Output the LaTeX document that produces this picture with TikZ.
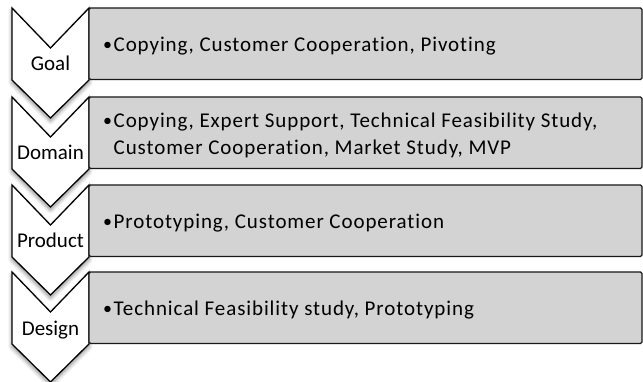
\documentclass[tikz,border=0pt]{standalone}
\usepackage{fontspec}
\setmainfont{Carlito}[Ligatures=NoCommon]
\usetikzlibrary{shadows.blur}
\definecolor{boxgray}{RGB}{211,211,211}
\newcommand\itembul{\makebox[10.5pt][l]{\raisebox{0.8pt}{\fontsize{18}{18}\selectfont\textbullet}}}
\begin{document}
\begin{tikzpicture}[x=1pt,y=-1pt,
  stage/.style={draw=black, fill=white, line width=1.3pt, line join=miter,
    blur shadow={shadow xshift=0pt, shadow yshift=-3pt, shadow blur radius=4pt,
      shadow blur steps=6, shadow opacity=45}},
  panel/.style={draw=black!90, fill=boxgray, line width=1.4pt, rounded corners=1.5pt,
    minimum width=553pt, minimum height=71.5pt, anchor=north west,
    inner sep=0pt, outer sep=0pt},
  itemtext/.style={anchor=west, align=left, inner sep=0pt,
    font=\fontsize{21}{27}\selectfont\addfontfeature{LetterSpace=4.3}},
  lab/.style={anchor=base, inner sep=0pt, font=\fontsize{21}{24}\selectfont}]
\useasboundingbox (0,0) rectangle (643,382);

% chevrons of the four levels
\foreach \y in {8,97,185,272}
  \draw[stage] (12,\y) -- (50.5,\y+40) -- (89,\y) -- (89,\y+72)
    -- (50.5,\y+110) -- (12,\y+72) -- cycle;

% grey panels with the activities
\node[panel] (r1) at (89,8) {};
\node[panel] (r2) at (89,97) {};
\node[panel] (r3) at (89,185) {};
\node[panel] (r4) at (89,272) {};

\node[itemtext] (t1) at ([xshift=14pt, yshift=-2.5pt]r1.west)
  {\itembul Copying, Customer Cooperation, Pivoting};
\node[itemtext] (t2) at ([xshift=14pt, yshift=-2.5pt]r2.west)
  {\itembul Copying, Expert Support, Technical Feasibility Study,\\
   \hspace*{10.5pt}Customer Cooperation, Market Study, MVP};
\node[itemtext] (t3) at ([xshift=14pt, yshift=-2.5pt]r3.west)
  {\itembul Prototyping, Customer Cooperation};
\node[itemtext] (t4) at ([xshift=14pt, yshift=-2.5pt]r4.west)
  {\itembul Technical Feasibility study, Prototyping};

% level names
\node[lab] (l1) at (50.5,71) {Goal};
\node[lab] (l2) at (50.5,160) {Domain};
\node[lab] (l3) at (50.5,248) {Product};
\node[lab] (l4) at (50.5,335) {Design};
\end{tikzpicture}
\end{document}
